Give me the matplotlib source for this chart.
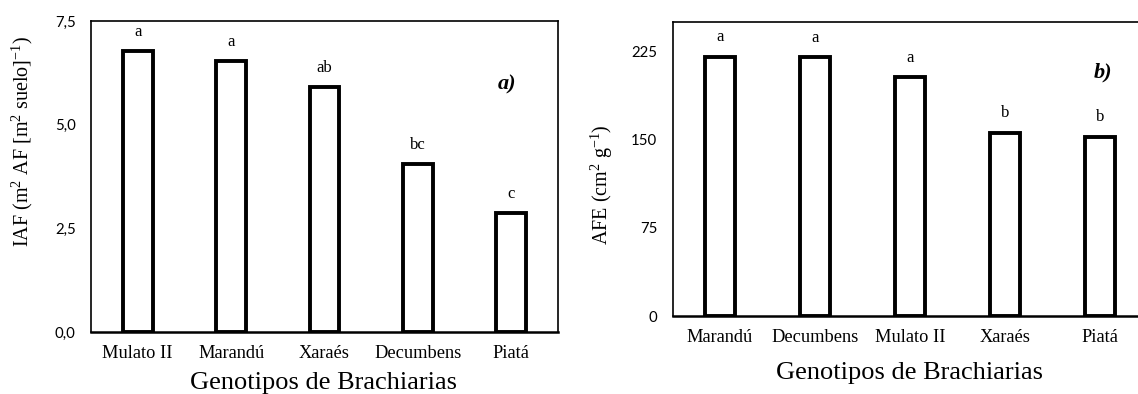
import matplotlib
matplotlib.use("Agg")
import matplotlib.pyplot as plt

# ---- data ----
cats_a = ["Mulato II", "Marandú", "Xaraés", "Decumbens", "Piatá"]
iaf = [6.78, 6.54, 5.90, 4.04, 2.86]
letters_a = ["a", "a", "ab", "bc", "c"]

cats_b = ["Marandú", "Decumbens", "Mulato II", "Xaraés", "Piatá"]
afe = [220.5, 220.0, 203.0, 156.0, 152.5]
letters_b = ["a", "a", "a", "b", "b"]

yticks_a = [0, 2.5, 5.0, 7.5]
yticklabels_a = ["0,0", "2,5", "5,0", "7,5"]
yticks_b = [0, 75, 150, 225]
yticklabels_b = ["0", "75", "150", "225"]

plt.rcParams["mathtext.fontset"] = "custom"
plt.rcParams["mathtext.rm"] = "Liberation Serif"
plt.rcParams["mathtext.it"] = "Liberation Serif:italic"
plt.rcParams["mathtext.bf"] = "Liberation Serif:bold"

SERIF = "Liberation Serif"
SANS = "Lato"

fig = plt.figure(figsize=(11.38, 3.94), dpi=100)
ax1 = fig.add_axes([91/1138, 1-332/394, 467/1138, 311/394])
ax2 = fig.add_axes([672.5/1138, 1-316/394, 475/1138, 294/394])


def style(ax, cats, vals, letters, yt, ytl, ymax, ylabel, tag, tagxy, ylab_xy, xlab_xy):
    x = list(range(len(cats)))
    ax.bar(x, vals, width=0.32, facecolor="white", edgecolor="black", linewidth=2.8, zorder=3)
    for xi, v, l in zip(x, vals, letters):
        ax.annotate(l, (xi, v), xytext=(0, 11), textcoords="offset points",
                    ha="center", va="baseline", fontsize=12, family=SERIF)
    ax.set_xlim(-0.5, len(cats) - 0.5)
    ax.set_ylim(0, ymax)
    ax.set_xticks(x)
    ax.set_xticklabels(cats, family=SERIF, fontsize=13.2)
    ax.set_yticks(yt)
    ax.set_yticklabels(ytl, family=SANS, fontsize=10.8)
    ax.tick_params(axis="both", length=0)
    ax.tick_params(axis="y", pad=11)
    ax.tick_params(axis="x", pad=9.5)
    for s in ["top", "left", "right"]:
        ax.spines[s].set_linewidth(1.2)
    ax.spines["bottom"].set_linewidth(1.8)
    ax.set_ylabel(ylabel, family=SERIF, fontsize=14.5, va="center")
    ax.yaxis.set_label_coords(*ylab_xy)
    ax.set_xlabel("Genotipos de Brachiarias", family=SERIF, fontsize=19, va="center")
    ax.xaxis.set_label_coords(*xlab_xy)
    ax.text(tagxy[0], tagxy[1], tag, transform=ax.transAxes, ha="center", va="center",
            family=SERIF, fontsize=16, fontweight="bold", fontstyle="italic")


style(ax1, cats_a, iaf, letters_a, yticks_a, yticklabels_a, 7.5,
      r"IAF (m$^{2}$ AF [m$^{2}$ suelo]$^{-1}$)", "a)",
      ((507-91)/467, (332-84)/311),
      (-(91-22)/467, (332-141)/311),
      ((323-91)/467, (332-383)/311))
style(ax2, cats_b, afe, letters_b, yticks_b, yticklabels_b, 250,
      r"AFE (cm$^{2}$ g$^{-1}$)", "b)",
      ((1103-672.5)/475, (316-72)/294),
      (-(672.5-602)/475, (316-185)/294),
      ((910-672.5)/475, (316-373)/294))

fig.savefig("out.png", dpi=100)
